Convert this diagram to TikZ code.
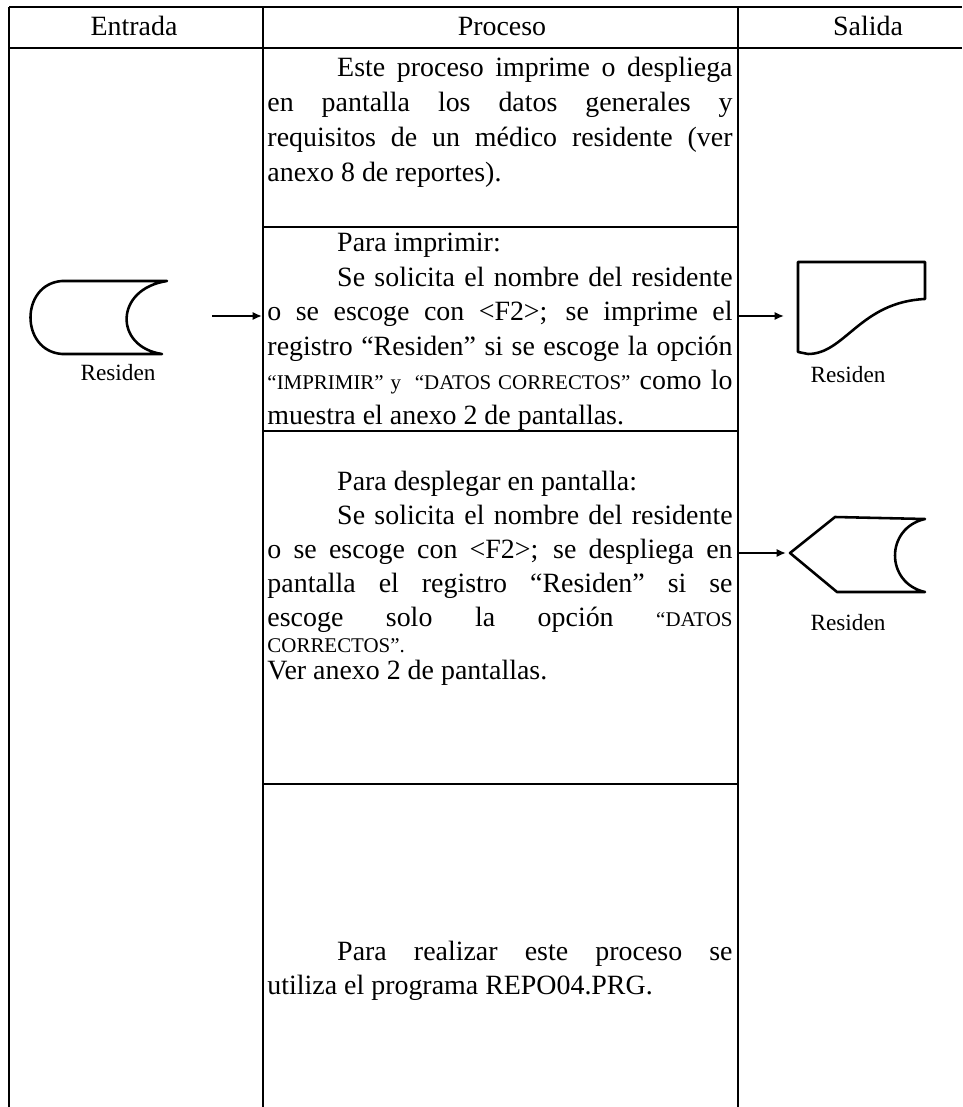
\documentclass[tikz,border=0pt]{standalone}
\usepackage{fontspec}
\setmainfont{Liberation Serif}
\usetikzlibrary{arrows.meta}
\newcommand\smc[1]{{\fontsize{9}{10}\selectfont #1}}
\newcommand\jline[1]{\makebox[200pt][s]{#1}}
\newcommand\ind{\hspace*{30pt}}
\begin{document}
\begin{tikzpicture}[x=0.43pt,y=-0.43pt,
  rule/.style={line width=0.9pt},
  sym/.style={line width=1.1pt, line join=round},
  flow/.style={line width=0.8pt,-{Latex[length=4pt,width=3.5pt]}},
  ln/.style={anchor=base west, inner sep=0pt, font=\fontsize{12}{14}\selectfont},
  hd/.style={anchor=base, inner sep=0pt, font=\fontsize{12}{14}\selectfont},
  lab/.style={anchor=base, inner sep=0pt, font=\fontsize{10}{12}\selectfont}]
\useasboundingbox (0,0) rectangle (962,1107);
% table rules
\draw[rule] (9,7) -- (962,7);
\draw[rule] (9,48) -- (962,48);
\draw[rule] (9,7) -- (9,1107);
\draw[rule] (263,7) -- (263,1107);
\draw[rule] (738,7) -- (738,1107);
\draw[rule] (263,227) -- (738,227);
\draw[rule] (263,431) -- (738,431);
\draw[rule] (263,784) -- (738,784);
% headers
\node[hd] (hE) at (134,36) {Entrada};
\node[hd] (hP) at (502,36) {Proceso};
\node[hd] (hS) at (868,36) {Salida};
% section 1
\node[ln] (a1) at (267,77) {\jline{\ind Este proceso imprime o despliega}};
\node[ln] (a2) at (267,112) {\jline{en pantalla los datos generales y}};
\node[ln] (a3) at (267,147) {\jline{requisitos de un médico residente (ver}};
\node[ln] (a4) at (267,182) {anexo 8 de reportes).};
% section 2
\node[ln] (b1) at (267,252) {\ind Para imprimir:};
\node[ln] (b2) at (267,286.5) {\jline{\ind Se solicita el nombre del residente}};
\node[ln] (b3) at (267,321) {\jline{o se escoge con <F2>; se imprime el}};
\node[ln] (b4) at (267,355.5) {\jline{registro “Residen” si se escoge la opción}};
\node[ln] (b5) at (267,390) {\jline{\smc{“IMPRIMIR” y \ “DATOS CORRECTOS”} como lo}};
\node[ln] (b6) at (267,424.5) {muestra el anexo 2 de pantallas.};
% section 3
\node[ln] (c1) at (267,490) {\ind Para desplegar en pantalla:};
\node[ln] (c2) at (267,524) {\jline{\ind Se solicita el nombre del residente}};
\node[ln] (c3) at (267,558) {\jline{o se escoge con <F2>; se despliega en}};
\node[ln] (c4) at (267,592) {\jline{pantalla el registro “Residen” si se}};
\node[ln] (c5) at (267,626) {\jline{escoge solo la opción \smc{“DATOS}}};
\node[ln] (c6) at (267,652) {\smc{CORRECTOS”.}};
\node[ln] (c7) at (267,679) {Ver anexo 2 de pantallas.};
% section 4
\node[ln] (d1) at (267,960) {\jline{\ind Para realizar este proceso se}};
\node[ln] (d2) at (267,994) {utiliza el programa REPO04.PRG.};
% input symbol (stored data)
\draw[sym] (62,281) -- (167,281) .. controls (114,289) and (114,347) .. (162,354)
  -- (62,354) .. controls (20,351) and (20,284) .. (62,281) -- cycle;
\node[lab] (inL) at (118,381) {Residen};
\coordinate (inA) at (212,316);
\coordinate (inB) at (262,316);
\draw[flow] (inA) -- (inB);
% output document
\draw[sym] (798,262) -- (925,262) -- (925,299) .. controls (860,302) and (845,354) .. (808,354)
  -- (798,352) -- cycle;
\node[lab] (docL) at (848,383) {Residen};
\coordinate (o1A) at (738,316);
\coordinate (o1B) at (784,316);
\draw[flow] (o1A) -- (o1B);
% output display
\draw[sym] (790,553) -- (835,517) -- (925,519) .. controls (885,528) and (885,583) .. (925,592)
  -- (837,592) -- cycle;
\node[lab] (dispL) at (848,630) {Residen};
\coordinate (o2A) at (738,553);
\coordinate (o2B) at (786,553);
\draw[flow] (o2A) -- (o2B);
\end{tikzpicture}
\end{document}
